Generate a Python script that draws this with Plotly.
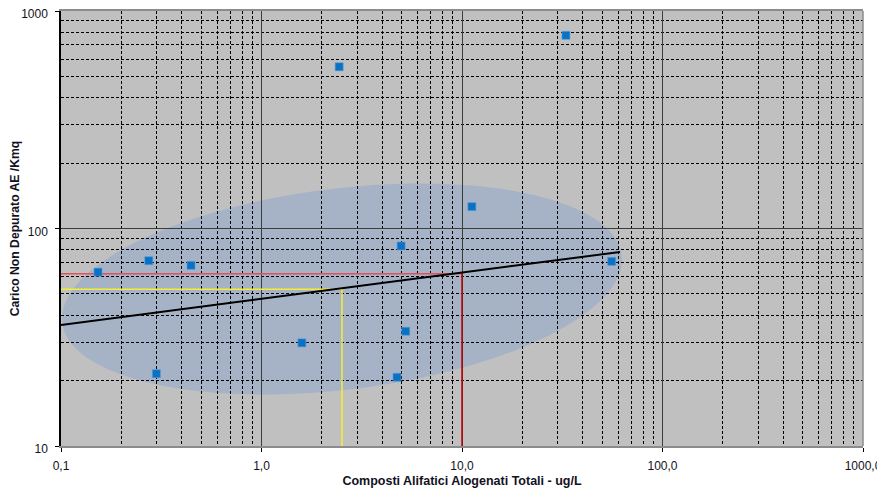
import numpy as np
import plotly.graph_objects as go

# ---- data ----
x_vals = [0.153, 0.274, 0.445, 0.299, 1.59, 4.97, 5.24, 4.74, 55.8, 2.44, 33.0, 11.2]
y_vals = [63.0, 71.1, 67.7, 21.5, 29.8, 83.1, 33.7, 20.7, 70.6, 554.0, 773.0, 126.0]

trend_x = [0.1, 61.4]
trend_y = [36.0, 78.0]

ref_red = (10.0, 62.0)      # reference point on trend
ref_yellow = (2.52, 52.5)   # centre point

x_tickvals = [0.1, 1, 10, 100, 1000]
x_ticktext = ["0,1", "1,0", "10,0", "100,0", "1000,0"]
y_tickvals = [10, 100, 1000]
y_ticktext = ["10", "100", "1000"]

x_title = "Composti Alifatici Alogenati Totali - ug/L"
y_title = "Carico Non Depurato AE /Kmq"

# ellipse (centre in data units, semi-axes / angle in screen terms)
ell_center = (2.52, 52.7)
ell_a_px, ell_b_px, ell_angle_deg = 281.8, 100.6, 6.9
px_per_dec_x, px_per_dec_y = 200.5, 217.5

t = np.linspace(0, 2 * np.pi, 121)
th = np.deg2rad(ell_angle_deg)
dx = ell_a_px * np.cos(t) * np.cos(th) - ell_b_px * np.sin(t) * np.sin(th)
dy = ell_a_px * np.cos(t) * np.sin(th) + ell_b_px * np.sin(t) * np.cos(th)
ex = 10 ** (np.log10(ell_center[0]) + dx / px_per_dec_x)
ey = 10 ** (np.log10(ell_center[1]) + dy / px_per_dec_y)
path = "M " + " L ".join(f"{a:.6g},{b:.6g}" for a, b in zip(ex, ey)) + " Z"

minor_x = [m * 10.0 ** e for e in range(-1, 3) for m in range(2, 10)]
minor_y = [m * 10.0 ** e for e in range(1, 3) for m in range(2, 10)]

fig = go.Figure()

# reference lines
fig.add_trace(go.Scatter(x=[0.1, ref_yellow[0], ref_yellow[0]], y=[ref_yellow[1], ref_yellow[1], 10],
                         mode="lines", line=dict(color="#F5EE30", width=1.5), hoverinfo="skip"))
fig.add_trace(go.Scatter(x=[0.1, ref_red[0]], y=[ref_red[1], ref_red[1]],
                         mode="lines", line=dict(color="#E4505A", width=1.5), hoverinfo="skip"))
fig.add_trace(go.Scatter(x=[ref_red[0], ref_red[0]], y=[ref_red[1], 10],
                         mode="lines", line=dict(color="#C00000", width=1.5), hoverinfo="skip"))
# trend
fig.add_trace(go.Scatter(x=trend_x, y=trend_y, mode="lines",
                         line=dict(color="black", width=2), hoverinfo="skip"))
# points
fig.add_trace(go.Scatter(x=x_vals, y=y_vals, mode="markers",
                         marker=dict(symbol="square", size=8, color="#0A72C4",
                                     line=dict(width=0.6, color="#5C9BD6"))))

fig.add_shape(type="path", path=path, xref="x", yref="y", layer="below",
              fillcolor="rgba(140,165,205,0.5)", line=dict(width=0))
fig.add_shape(type="line", xref="paper", yref="paper", x0=1, x1=1, y0=0, y1=1,
              line=dict(color="#8C8C8C", width=1.5), layer="above")

font = "Liberation Sans, Arial, sans-serif"
fig.update_layout(
    width=877, height=492,
    margin=dict(l=53, r=22, t=3, b=54),
    paper_bgcolor="white", plot_bgcolor="#C0C0C0",
    showlegend=False,
    font=dict(family=font, size=12, color="#111122"),
    xaxis=dict(type="log", range=[-1, 3], tickvals=x_tickvals, ticktext=x_ticktext,
               automargin=False, ticklabeloverflow="allow",
               showgrid=True, gridcolor="#3C3C3C", gridwidth=1,
               minor=dict(tickvals=minor_x, showgrid=True, gridcolor="black",
                          griddash="3px,2px", gridwidth=1, ticks=""),
               showline=True, linecolor="#8C8C8C", linewidth=1.5, mirror=True,
               ticks="outside", ticklen=4, tickcolor="black", ticklabelstandoff=4,
               zeroline=False,
               title=dict(text=f"<b>{x_title}</b>", font=dict(size=12.5, color="#111122"),
                          standoff=4)),
    yaxis=dict(type="log", range=[1, 3], tickvals=y_tickvals, ticktext=y_ticktext,
               automargin=False, ticklabeloverflow="allow", ticklabelshift=3,
               showgrid=True, gridcolor="#3C3C3C", gridwidth=1,
               minor=dict(tickvals=minor_y, showgrid=True, gridcolor="black",
                          griddash="3px,2px", gridwidth=1, ticks=""),
               showline=True, linecolor="black", linewidth=1.5,
               ticks="outside", ticklen=4, tickcolor="black", ticklabelstandoff=5,
               zeroline=False,
               title=dict(text=f"<b>{y_title}</b>", font=dict(size=12.2, color="#111122"),
                          standoff=6)),
)

fig.write_html("out.html")
